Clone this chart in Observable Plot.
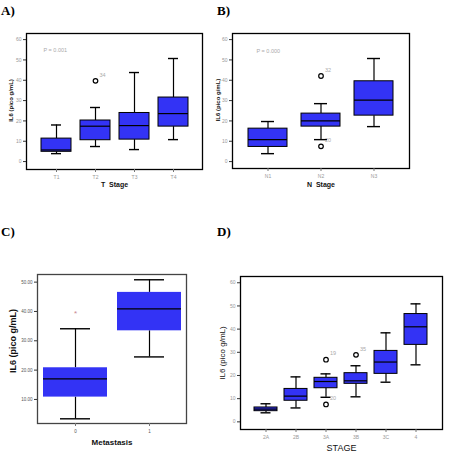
<!DOCTYPE html>
<html><head><meta charset="utf-8">
<script src="https://cdn.jsdelivr.net/npm/d3@7"></script>
<script src="https://cdn.jsdelivr.net/npm/@observablehq/plot@0.6"></script>
<style>
body{margin:0;background:#fff}
#root{position:relative;width:451px;height:470px;background:#fff;overflow:hidden}
.panel{position:absolute}
.ttl{position:absolute;font:bold 13px "Liberation Serif",serif;color:#000}
</style></head>
<body><div id="root">
<div class="ttl" style="left:1px;top:3px">A)</div>
<div class="ttl" style="left:217px;top:3px">B)</div>
<div class="ttl" style="left:1px;top:224px">C)</div>
<div class="ttl" style="left:217px;top:224px">D)</div>
</div>
<script>
// Panel A: T stage
const tCats = ["T1","T2","T3","T4"];
const tLow  = [3.9, 7.4, 5.9, 10.8];
const tQ1   = [4.8, 10.5, 10.8, 17.2];
const tMed  = [5.7, 17.4, 17.7, 23.6];
const tQ3   = [11.3, 20.2, 23.9, 31.5];
const tHigh = [18.0, 26.6, 43.8, 50.7];
const tOutCat = ["T2"], tOutVal = [39.7], tOutLab = ["34"];

// Panel B: N stage
const nCats = ["N1","N2","N3"];
const nLow  = [3.9, 10.8, 17.2];
const nQ1   = [7.2, 17.2, 22.6];
const nMed  = [10.8, 20.0, 30.2];
const nQ3   = [16.2, 23.6, 39.5];
const nHigh = [19.7, 28.5, 50.7];
const nOutCat = ["N2","N2"], nOutVal = [42.1, 7.5], nOutLab = ["32","20"];

// Panel C: Metastasis
const mCats = ["0","1"];
const mLow  = [3.4, 24.5];
const mQ1   = [10.8, 33.4];
const mMed  = [17.0, 40.9];
const mQ3   = [20.8, 46.5];
const mHigh = [34.1, 50.8];
const mOutCat = ["0"], mOutVal = [39.2];

// Panel D: Stage
const sCats = ["2A","2B","3A","3B","3C","4"];
const sLow  = [3.9, 6.0, 10.6, 10.8, 17.1, 24.6];
const sQ1   = [4.6, 9.1, 14.5, 16.4, 20.7, 33.2];
const sMed  = [5.5, 11.1, 17.4, 17.7, 25.8, 41.0];
const sQ3   = [6.2, 14.2, 19.0, 21.0, 30.6, 46.5];
const sHigh = [7.8, 19.4, 20.7, 24.2, 38.4, 50.9];
const sOutCat = ["3A","3A","3B"], sOutVal = [26.8, 7.5, 28.9], sOutLab = ["19","20","35"];

const ticksABD = [0,10,20,30,40,50,60];
const ticksC = [10,20,30,40,50];
const yLabel = "IL6 (pico g/mL)";
const blue = "#3333f5";

function panel(o){
  const rows = o.cats.map((c,i)=>({cat:c, low:o.low[i], q1:o.q1[i], med:o.med[i], q3:o.q3[i], high:o.high[i]}));
  const outs = (o.outCat||[]).map((c,i)=>({cat:c, v:o.outVal[i], lab:o.outLab ? o.outLab[i] : ""}));
  const marks = [
    Plot.ruleX(rows, {x:"cat", y1:"low", y2:"q1", stroke:"#000", strokeWidth:1.2}),
    Plot.ruleX(rows, {x:"cat", y1:"q3", y2:"high", stroke:"#000", strokeWidth:1.2}),
    Plot.barY(rows, {x:"cat", y1:"q1", y2:"q3", fill:o.fill, stroke:o.boxStroke, strokeWidth:1}),
    Plot.tickY(rows, {x:"cat", y:"med", stroke:"#000", strokeWidth:1.2}),
    Plot.tickY(rows, {x:"cat", y:"low", stroke:"#000", strokeWidth:1.4, insetLeft:o.capInset, insetRight:o.capInset}),
    Plot.tickY(rows, {x:"cat", y:"high", stroke:"#000", strokeWidth:1.4, insetLeft:o.capInset, insetRight:o.capInset}),
  ];
  if (o.star) {
    marks.push(Plot.text(outs, {x:"cat", y:"v", text:()=>"*", fill:"#c8898f", fontSize:8}));
  } else {
    marks.push(Plot.dot(outs, {x:"cat", y:"v", r:2.3, stroke:"#000", strokeWidth:1.2, fill:"#fff"}));
    marks.push(Plot.text(outs, {x:"cat", y:"v", text:"lab", dx:4, dy:-6, textAnchor:"start", fill:"#aaa", fontSize:5.5}));
  }
  marks.push(
    Plot.frame({stroke:o.frameStroke, strokeWidth:1.3}),
    Plot.axisY({ticks:o.ticks, tickFormat:o.tickFormat, tickSize:3, tickPadding:2, stroke:"#333", fill:o.tickFill, fontSize:o.tickFont, label:null}),
    Plot.axisX({tickSize:3, tickPadding:3, stroke:"#777", fill:o.tickFill, fontSize:o.tickFont, label:null}),
    Plot.text([o.xLabel], {frameAnchor:"bottom", textAnchor:"middle", lineAnchor:"middle", dy:o.xLabelDy, fontSize:o.xLabelFont, fontWeight:o.xLabelWeight, fill:"#111", style:"letter-spacing:"+o.xLabelSpacing}),
    Plot.text([yLabel], {frameAnchor:"left", textAnchor:"middle", lineAnchor:"middle", rotate:-90, dx:o.yLabelDx, dy:o.yLabelDy, fontSize:o.yLabelFont, fontWeight:o.yLabelWeight, fill:"#111", style:"letter-spacing:"+(o.yLabelSpacing||"0px")})
  );
  if (o.pText) marks.push(Plot.text([o.pText], {frameAnchor:"top-left", textAnchor:"start", lineAnchor:"middle", dx:o.pDx, dy:o.pDy, fill:"#aaa", fontSize:5.5}));
  const svg = Plot.plot({
    width:o.width, height:o.height,
    marginLeft:o.ml, marginRight:o.mr, marginTop:o.mt, marginBottom:o.mb,
    x:{type:"band", domain:o.cats, paddingInner:o.pi, paddingOuter:o.po, align:0.5, axis:null},
    y:{domain:o.ydomain, axis:null},
    style:{fontFamily:"Liberation Sans, Arial, sans-serif", background:"transparent", overflow:"visible"},
    marks
  });
  const div = document.createElement("div");
  div.className = "panel";
  div.style.left = o.left+"px"; div.style.top = o.top+"px";
  div.appendChild(svg);
  document.getElementById("root").appendChild(div);
}

panel({cats:tCats, low:tLow, q1:tQ1, med:tMed, q3:tQ3, high:tHigh, outCat:tOutCat, outVal:tOutVal, outLab:tOutLab,
  left:0, top:0, width:225, height:200, ml:26, mr:23, mt:33, mb:31, ydomain:[-3.9,63], pi:0.24, po:0.348, capInset:10,
  fill:blue, boxStroke:"#000", frameStroke:"#000", ticks:ticksABD, tickFormat:d=>d, tickFill:"#999", tickFont:5,
  xLabel:"T  Stage", xLabelDy:15, xLabelFont:7, xLabelWeight:"bold", xLabelSpacing:"0.8px",
  yLabelDx:-15, yLabelDy:-1, yLabelFont:6, yLabelWeight:"bold", yLabelSpacing:"0.9px", pText:"P = 0.001", pDx:17, pDy:17});

panel({cats:nCats, low:nLow, q1:nQ1, med:nMed, q3:nQ3, high:nHigh, outCat:nOutCat, outVal:nOutVal, outLab:nOutLab,
  left:205, top:0, width:246, height:200, ml:27, mr:42, mt:33, mb:32, ydomain:[-3.4,63], pi:0.267, po:0.297, capInset:13,
  fill:blue, boxStroke:"#000", frameStroke:"#000", ticks:ticksABD, tickFormat:d=>d, tickFill:"#999", tickFont:5,
  xLabel:"N  Stage", xLabelDy:16, xLabelFont:7, xLabelWeight:"bold", xLabelSpacing:"0.8px",
  yLabelDx:-14, yLabelDy:-1, yLabelFont:6, yLabelWeight:"bold", yLabelSpacing:"0.9px", pText:"P = 0.000", pDx:24, pDy:18});

panel({cats:mCats, low:mLow, q1:mQ1, med:mMed, q3:mQ3, high:mHigh, outCat:mOutCat, outVal:mOutVal, star:true,
  left:0, top:220, width:225, height:250, ml:37, mr:39, mt:54, mb:47, ydomain:[1.8,52.6], pi:0.136, po:0.073, capInset:17,
  fill:blue, boxStroke:"none", frameStroke:"#444", ticks:ticksC, tickFormat:d=>d.toFixed(2), tickFill:"#555", tickFont:4.5,
  xLabel:"Metastasis", xLabelDy:19, xLabelFont:8, xLabelWeight:"600", xLabelSpacing:"0px",
  yLabelDx:-24, yLabelDy:-8, yLabelFont:9, yLabelWeight:"bold"});

panel({cats:sCats, low:sLow, q1:sQ1, med:sMed, q3:sQ3, high:sHigh, outCat:sOutCat, outVal:sOutVal, outLab:sOutLab,
  left:205, top:220, width:246, height:250, ml:35, mr:9, mt:56, mb:41, ydomain:[-3.3,62.7], pi:0.233, po:0.483, capInset:6.5,
  fill:blue, boxStroke:"#000", frameStroke:"#000", ticks:ticksABD, tickFormat:d=>d, tickFill:"#999", tickFont:5,
  xLabel:"STAGE", xLabelDy:19, xLabelFont:9, xLabelWeight:"normal", xLabelSpacing:"1px",
  yLabelDx:-18, yLabelDy:0, yLabelFont:8, yLabelWeight:"normal", yLabelSpacing:"0.8px"});
</script>
</body></html>
